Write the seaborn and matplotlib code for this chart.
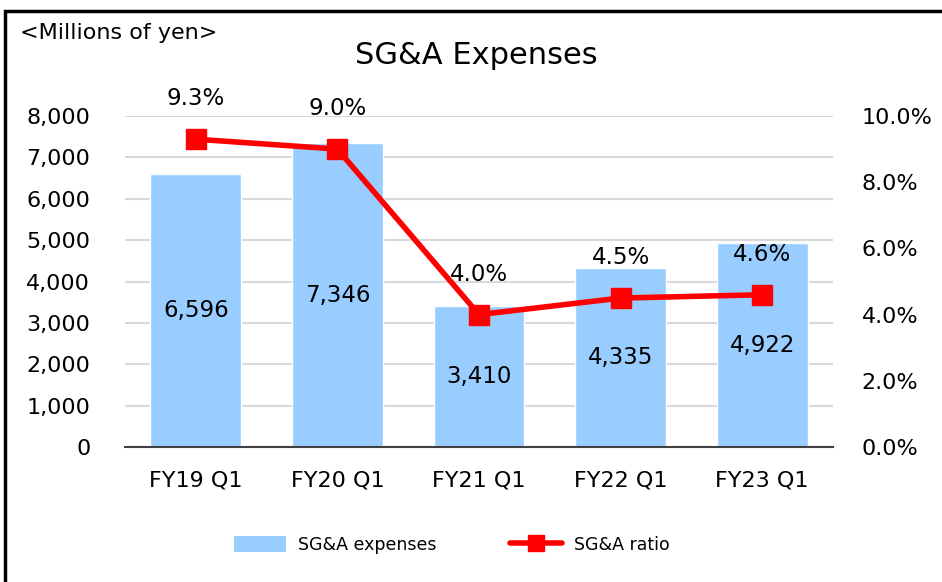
import matplotlib
matplotlib.use('Agg')
import matplotlib.pyplot as plt
import pandas as pd
import seaborn as sns
from matplotlib.patches import Rectangle
from matplotlib.lines import Line2D
from matplotlib.patches import Patch

# 데이터
quarters = ['FY19 Q1', 'FY20 Q1', 'FY21 Q1', 'FY22 Q1', 'FY23 Q1']
sga_expenses = [6596, 7346, 3410, 4335, 4922]
sga_ratio = [9.3, 9.0, 4.0, 4.5, 4.6]
ratio_labels = ['9.3%', '9.0%', '4.0%', '4.5%', '4.6%']

df = pd.DataFrame({'quarter': quarters, 'expenses': sga_expenses, 'ratio': sga_ratio})

sns.set_style('white')
plt.rcParams['font.family'] = ['DejaVu Sans']
plt.rcParams['text.color'] = 'black'
plt.rcParams['xtick.color'] = 'black'
plt.rcParams['ytick.color'] = 'black'

bar_color = '#99CCFF'
line_color = '#FF0000'

fig = plt.figure(figsize=(9.42, 5.82), dpi=100)
ax = fig.add_axes([125/942, 1-447/582, (833-125)/942, (447-116)/582])

sns.barplot(data=df, x='quarter', y='expenses', color=bar_color, width=0.64,
            saturation=1, ax=ax, zorder=2)
ax.set_xlim(-0.5, 4.5)
ax.set_ylim(0, 8000)
ax.set_yticks(range(0, 8001, 1000))
ax.set_yticklabels([f'{v:,}' for v in range(0, 8001, 1000)])
ax.yaxis.grid(True, color='#D9D9D9', linewidth=1.5, zorder=0)
ax.set_axisbelow(True)
for s in ['top', 'right', 'left']:
    ax.spines[s].set_visible(False)
ax.spines['bottom'].set_color('#404040')
ax.spines['bottom'].set_linewidth(1.5)
ax.set_xlabel('')
ax.set_ylabel('')
ax.tick_params(axis='y', length=0, pad=25, labelsize=16)
ax.tick_params(axis='x', length=0, pad=17, labelsize=16)

# 막대 안 값
for i, v in enumerate(sga_expenses):
    ax.text(i, v / 2, f'{v:,}', ha='center', va='center', fontsize=16.5, zorder=5)

# 비율 선
ax2 = ax.twinx()
ax2.plot(range(len(quarters)), sga_ratio, color=line_color, linewidth=4,
         marker='s', markersize=14, zorder=4)
ax2.set_ylim(0, 10)
ax2.set_yticks(range(0, 11, 2))
ax2.set_yticklabels([f'{v:.1f}%' for v in range(0, 11, 2)])
ax2.tick_params(axis='y', length=0, pad=20.5, labelsize=16)
for s in ax2.spines.values():
    s.set_visible(False)
for i, (r, lab) in enumerate(zip(sga_ratio, ratio_labels)):
    ax2.annotate(lab, (i, r), xytext=(0, 29), textcoords='offset points',
                 ha='center', va='center', fontsize=16.5)

fig.text(20/942, 1-33/582, '<Millions of yen>', fontsize=16, ha='left', va='center')
fig.text(476/942, 1-56/582, 'SG&A Expenses', fontsize=22, ha='center', va='center')

handles = [Patch(facecolor=bar_color, edgecolor='none', label='SG&A expenses'),
           Line2D([0], [0], color=line_color, linewidth=4, marker='s', markersize=12,
                  label='SG&A ratio')]
fig.legend(handles=handles, loc='center', bbox_to_anchor=(452/942, 1-545/582), ncol=2,
           frameon=False, fontsize=12.5, handlelength=3.0, handleheight=1.0,
           columnspacing=4.2, handletextpad=0.7)

# 바깥 테두리
fig.patches.append(Rectangle((5/942, -0.01), 1.0, 1 - 11/582 + 0.01,
                             transform=fig.transFigure, fill=False,
                             edgecolor='black', linewidth=2.5))

fig.savefig('out.png', dpi=100)
